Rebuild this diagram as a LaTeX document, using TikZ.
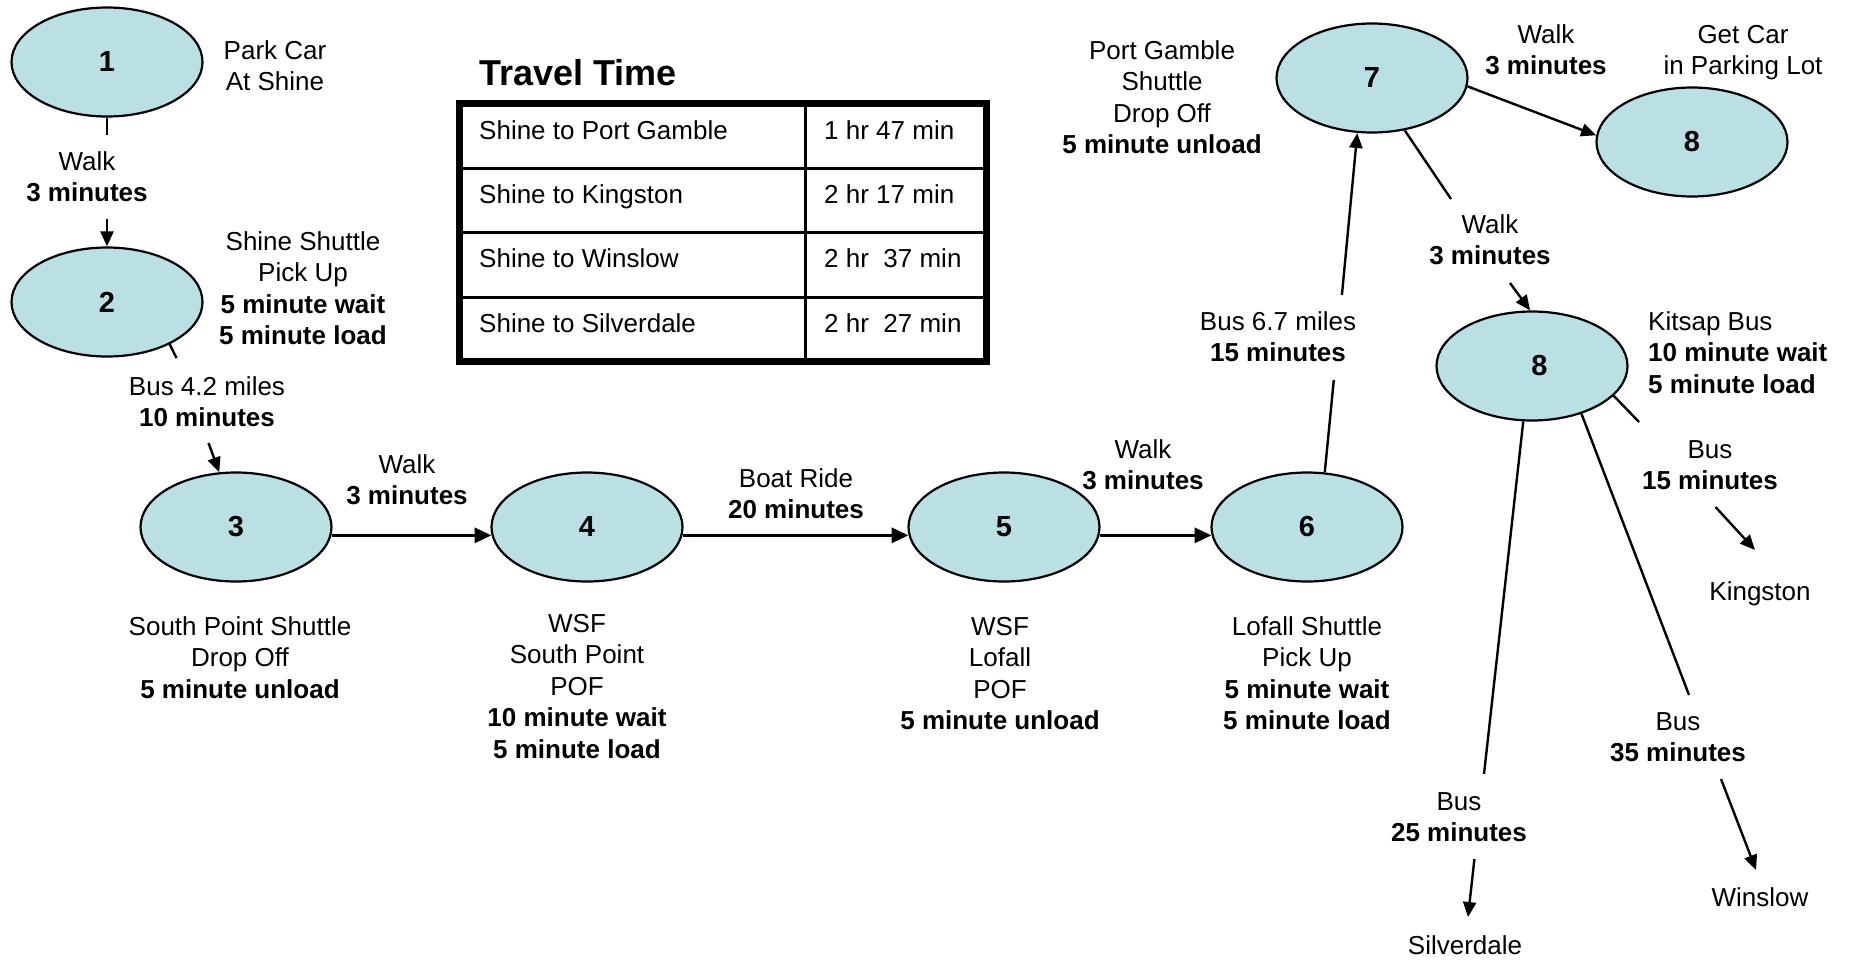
\documentclass[tikz,border=0pt]{standalone}
\usepackage{fontspec}
\setmainfont{Liberation Sans}
\usetikzlibrary{shapes.geometric,arrows.meta}
\definecolor{nodefill}{RGB}{187,224,227}
\newcommand{\mlc}[1]{\begin{tabular}[t]{@{}c@{}}#1\end{tabular}}
\newcommand{\mll}[1]{\begin{tabular}[t]{@{}l@{}}#1\end{tabular}}
\begin{document}
\begin{tikzpicture}[x=1pt,y=-1pt,
  stop/.style={ellipse,draw=black,line width=2.2pt,fill=nodefill,minimum width=191pt,minimum height=109pt,inner sep=0pt,font=\fontsize{29}{34}\selectfont\bfseries},
  lbl/.style={inner sep=0pt,anchor=base,font=\fontsize{26}{31.6}\selectfont},
  lbll/.style={lbl,anchor=base west},
  conn/.style={line width=2.4pt},
  arr/.style={conn,-{Triangle[length=15pt,width=13pt]}},
  harr/.style={line width=3.5pt,-{Triangle[length=17pt,width=15pt]}},
  tline/.style={line width=3pt},
]
\useasboundingbox (0,0) rectangle (1851,959);

% stops
\node[stop] (n1) at (107,62) {1};
\node[stop] (n2) at (107,302) {2};
\node[stop] (n3) at (236,527) {3};
\node[stop] (n4) at (587,527) {4};
\node[stop] (n5) at (1004,527) {5};
\node[stop] (n6) at (1307,527) {6};
\node[stop] (n7) at (1372,78) {7};
\node[stop] (n8a) at (1692,142) {8};
\node[stop] (n8b) at (1532,366) {\hspace*{15pt}8};

% descriptive texts
\node[lbl] (t1) at (275,59) {\mlc{Park Car\\At Shine}};
\node[lbl] (t2) at (303,250) {\mlc{Shine Shuttle\\Pick Up\\\textbf{5 minute wait}\\\textbf{5 minute load}}};
\node[lbl] (t3) at (240,635) {\mlc{South Point Shuttle\\Drop Off\\\textbf{5 minute unload}}};
\node[lbl] (t4) at (577,632) {\mlc{WSF\\South Point\\POF\\\textbf{10 minute wait}\\\textbf{5 minute load}}};
\node[lbl] (t5) at (1000,635) {\mlc{WSF\\Lofall\\POF\\\textbf{5 minute unload}}};
\node[lbl] (t6) at (1307,635) {\mlc{Lofall Shuttle\\Pick Up\\\textbf{5 minute wait}\\\textbf{5 minute load}}};
\node[lbl] (t7) at (1162,59) {\mlc{Port Gamble\\Shuttle\\Drop Off\\\textbf{5 minute unload}}};
\node[lbl] (t8a) at (1743,43) {\mlc{Get Car\\in Parking Lot}};
\node[lbll] (t8b) at (1648,330) {\mll{Kitsap Bus\\\textbf{10 minute wait}\\\textbf{5 minute load}}};
\node[lbl] (kingston) at (1760,600) {Kingston};
\node[lbl] (winslow) at (1760,906) {Winslow};
\node[lbl] (silverdale) at (1465,954) {Silverdale};

% connector labels
\node[lbl] (l12) at (87,170) {\mlc{Walk\\\textbf{3 minutes}}};
\node[lbl] (l23) at (207,395) {\mlc{Bus 4.2 miles\\\textbf{10 minutes}}};
\node[lbl] (l34) at (407,473) {\mlc{Walk\\\textbf{3 minutes}}};
\node[lbl] (l45) at (796,487) {\mlc{Boat Ride\\\textbf{20 minutes}}};
\node[lbl] (l56) at (1143,458) {\mlc{Walk\\\textbf{3 minutes}}};
\node[lbl] (l67) at (1278,330) {\mlc{Bus 6.7 miles\\\textbf{15 minutes}}};
\node[lbl] (l78a) at (1546,43) {\mlc{Walk\\\textbf{3 minutes}}};
\node[lbl] (l78b) at (1490,233) {\mlc{Walk\\\textbf{3 minutes}}};
\node[lbl] (lk) at (1710,458) {\mlc{Bus\\\textbf{15 minutes}}};
\node[lbl] (lw) at (1678,730) {\mlc{Bus\\\textbf{35 minutes}}};
\node[lbl] (ls) at (1459,810) {\mlc{Bus\\\textbf{25 minutes}}};

% connectors
\coordinate (c12a) at (107,135);
\coordinate (c12b) at (107,219);
\draw[conn] (n1.south) -- (c12a);
\draw[arr] (c12b) -- (n2.north);

\coordinate (c23a) at (176.5,358);
\coordinate (c23b) at (208.5,443);
\draw[conn] (n2.-34) -- (c23a);
\draw[arr] (c23b) -- (n3.107);

\draw[harr] (n3.-5) -- (n4.185);
\draw[harr] (n4.-5) -- (n5.185);
\draw[harr] (n5.-5) -- (n6.185);

\coordinate (c67a) at (1333.8,380);
\coordinate (c67b) at (1341.9,295);
\draw[conn] (n6.72) -- (c67a);
\draw[arr] (c67b) -- (n7.255);

\draw[arr] (n7.-5) -- (n8a.176);

\coordinate (c78a) at (1451,199);
\coordinate (c78b) at (1510,283);
\draw[conn] (n7.-58) -- (c78a);
\draw[arr] (c78b) -- (n8b.92);

\coordinate (cka) at (1639,422);
\coordinate (ckb) at (1715.5,507);
\coordinate (ckt) at (1755,550);
\draw[conn] (n8b.-20) -- (cka);
\draw[arr] (ckb) -- (ckt);

\coordinate (cwa) at (1689,695);
\coordinate (cwb) at (1721,779);
\coordinate (cwt) at (1756,870);
\draw[conn] (n8b.-44) -- (cwa);
\draw[arr] (cwb) -- (cwt);

\coordinate (csa) at (1484,774);
\coordinate (csb) at (1474.4,859);
\coordinate (cst) at (1468,917);
\draw[conn] (n8b.-99) -- (csa);
\draw[arr] (csb) -- (cst);

% travel time table
\node[inner sep=0pt,anchor=base west,font=\fontsize{36}{42}\selectfont\bfseries] (title) at (479,85) {Travel Time};
\draw[line width=7pt] (459.5,103.5) rectangle (986.5,361.5);
\draw[tline] (459.5,168) -- (986.5,168);
\draw[tline] (459.5,232.5) -- (986.5,232.5);
\draw[tline] (459.5,297) -- (986.5,297);
\draw[tline] (805.5,103.5) -- (805.5,361.5);
\node[lbll] (r1a) at (479,139) {Shine to Port Gamble};
\node[lbll] (r2a) at (479,203) {Shine to Kingston};
\node[lbll] (r3a) at (479,267) {Shine to Winslow};
\node[lbll] (r4a) at (479,332) {Shine to Silverdale};
\node[lbll] (r1b) at (824,139) {1 hr 47 min};
\node[lbll] (r2b) at (824,203) {2 hr 17 min};
\node[lbll] (r3b) at (824,267) {2 hr\ \ 37 min};
\node[lbll] (r4b) at (824,332) {2 hr\ \ 27 min};
\end{tikzpicture}
\end{document}
